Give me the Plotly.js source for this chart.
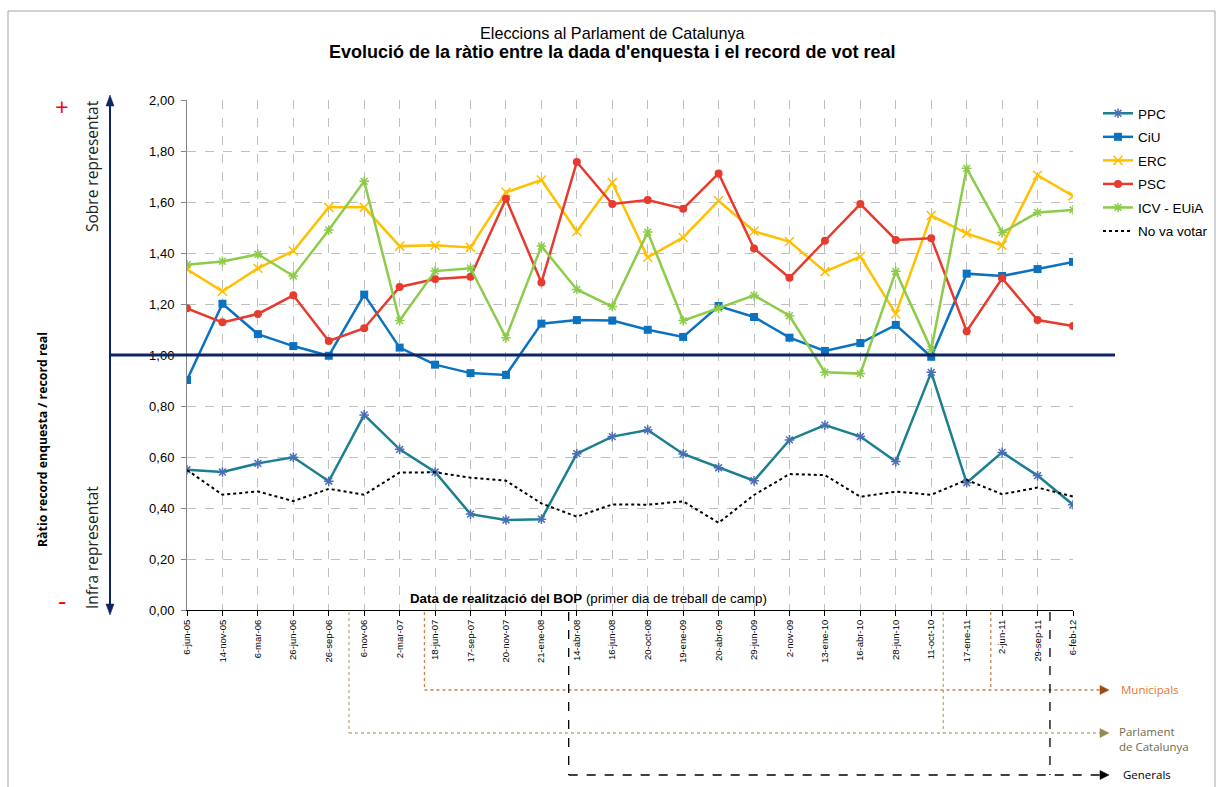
<!DOCTYPE html>
<html>
<head>
<meta charset="utf-8">
<script src="https://cdn.plot.ly/plotly-3.0.1.min.js"></script>
<style>html,body{margin:0;padding:0;background:#fff}#chart{width:1219px;height:787px}</style>
</head>
<body>
<div id="chart"></div>
<script>
// ---- Data ----
const dates = ["6-jun-05","14-nov-05","6-mar-06","26-jun-06","26-sep-06","6-nov-06","2-mar-07","18-jun-07","17-sep-07","20-nov-07","21-ene-08","14-abr-08","16-jun-08","20-oct-08","19-ene-09","20-abr-09","29-jun-09","2-nov-09","13-ene-10","16-abr-10","28-jun-10","11-oct-10","17-ene-11","2-jun-11","29-sep-11","6-feb-12"];
const ppc = [0.550,0.541,0.575,0.599,0.505,0.765,0.630,0.541,0.376,0.353,0.356,0.613,0.680,0.706,0.612,0.558,0.507,0.667,0.725,0.680,0.582,0.932,0.499,0.618,0.527,0.413];
const ciu = [0.902,1.201,1.082,1.035,0.997,1.237,1.029,0.962,0.929,0.922,1.123,1.137,1.135,1.099,1.071,1.192,1.149,1.068,1.016,1.047,1.118,0.993,1.319,1.310,1.337,1.365];
const erc = [1.336,1.250,1.340,1.408,1.579,1.579,1.427,1.430,1.422,1.638,1.686,1.484,1.676,1.383,1.461,1.605,1.485,1.445,1.327,1.386,1.161,1.547,1.477,1.430,1.705,1.624];
const psc = [1.183,1.128,1.161,1.234,1.055,1.105,1.267,1.298,1.307,1.613,1.284,1.757,1.592,1.608,1.574,1.712,1.418,1.303,1.448,1.592,1.451,1.458,1.093,1.301,1.137,1.114];
const icv = [1.354,1.367,1.395,1.310,1.490,1.681,1.135,1.329,1.340,1.068,1.427,1.257,1.190,1.482,1.135,1.183,1.234,1.154,0.932,0.927,1.328,1.022,1.732,1.480,1.559,1.569];
const noVota = [0.549,0.452,0.465,0.427,0.475,0.452,0.539,0.540,0.519,0.507,0.418,0.366,0.414,0.413,0.426,0.342,0.451,0.533,0.529,0.444,0.464,0.452,0.510,0.454,0.480,0.445];
const seriesNames = ["PPC","CiU","ERC","PSC","ICV - EUiA","No va votar"];
// election positions (in category-index units along the x axis)
const elecParlament = [4.57, 21.34];
const elecMunicipals = [6.70, 22.68];
const elecGenerals = [10.77, 24.35];

// ---- Geometry helpers (layout only) ----
const W = 1219, H = 787;
const M = {l:187, r:146, t:100, b:177};
const PW = W - M.l - M.r, PH = H - M.t - M.b;
const N = dates.length - 1;
const X = px => (px - M.l) / PW;
const Y = py => (M.t + PH - py) / PH;
const CX = idx => idx / N;

const FONT = "Arial, 'Liberation Sans', sans-serif";
const CAL = "'Open Sans', 'Noto Sans', sans-serif";

function mk(name, y, color, sym, mcolor, mline, size, group) {
  return {
    type: 'scatter', mode: 'lines+markers', name: name, x: dates, y: y,
    legendgroup: group,
    line: {color: color, width: 2.5},
    marker: sym === 'square' || sym === 'circle'
      ? {symbol: sym, size: size, color: mcolor}
      : {symbol: sym, size: size, color: mcolor, line: {color: mcolor, width: mline}},
    hoverinfo: 'x+y+name'
  };
}

const traces = [
  mk(seriesNames[0], ppc, '#1A7F8E', 'asterisk-open', '#4A6FB5', 1.5, 8, 'g1'),
  mk(seriesNames[1], ciu, '#0A72C1', 'square', '#0A72C1', 0, 8, 'g2'),
  mk(seriesNames[2], erc, '#FFC000', 'x-thin-open', '#FFC000', 1.5, 9, 'g3'),
  mk(seriesNames[3], psc, '#E63B2E', 'circle', '#E63B2E', 0, 8, 'g4'),
  mk(seriesNames[4], icv, '#8DCB4A', 'asterisk-open', '#8DCB4A', 1.5, 8, 'g5'),
  {type:'scatter', mode:'lines', name: seriesNames[5], x: dates, y: noVota, legendgroup:'g6',
   line:{color:'#000000', width:2, dash:'dot'}}
];

// ---- Shapes ----
const shapes = [];
// outer frame
shapes.push({type:'rect', xref:'paper', yref:'paper', x0:X(8), x1:X(1215), y0:Y(800), y1:Y(11),
  line:{color:'#A6A6A6', width:1}, fillcolor:'rgba(0,0,0,0)'});
// 1.00 reference line
shapes.push({type:'line', xref:'paper', yref:'paper', x0:X(110), x1:X(1115), y0:0.5, y1:0.5,
  line:{color:'#0F2463', width:3}});
// vertical double arrow
const AX = 110;
shapes.push({type:'line', xref:'paper', yref:'paper', x0:X(AX), x1:X(AX), y0:Y(606), y1:Y(104),
  line:{color:'#0F2463', width:2}});
function tri(pts, color) {
  const d = 'M' + pts.map(p => X(p[0]) + ',' + Y(p[1])).join(' L') + ' Z';
  return {type:'path', xref:'paper', yref:'paper', path:d, fillcolor:color, line:{color:color, width:0.5}};
}
shapes.push(tri([[AX-4,106],[AX+4,106],[AX,95]], '#0F2463'));
shapes.push(tri([[AX-4,604],[AX+4,604],[AX,615]], '#0F2463'));

// election bracket lines
function bracket(positions, py, color, dash, headColor) {
  positions.forEach(p => {
    shapes.push({type:'line', xref:'paper', yref:'paper', x0:CX(p), x1:CX(p), y0:Y(612), y1:Y(py),
      line:{color:color, width:1.3, dash:dash}});
  });
  shapes.push({type:'line', xref:'paper', yref:'paper', x0:CX(positions[0]), x1:X(1101), y0:Y(py), y1:Y(py),
    line:{color:color, width:1.3, dash:dash}});
  shapes.push(tri([[1100,py-4.5],[1100,py+4.5],[1109,py]], headColor));
}
bracket(elecMunicipals, 690, '#C98150', 'dot', '#9A4A10');
bracket(elecParlament, 733, '#B8AD80', 'dot', '#948A54');
bracket(elecGenerals, 775, '#000000', 'dash', '#000000');

// ---- Annotations ----
const annotations = [
  {xref:'paper', yref:'paper', x:X(612), y:Y(33), text:'Eleccions al Parlament de Catalunya', showarrow:false,
   font:{family:FONT, size:16.2, color:'#000'}, xanchor:'center', yanchor:'middle'},
  {xref:'paper', yref:'paper', x:X(612), y:Y(52), text:"<b>Evolució de la ràtio entre la dada d'enquesta i el record de vot real</b>", showarrow:false,
   font:{family:FONT, size:18, color:'#000'}, xanchor:'center', yanchor:'middle'},
  {xref:'paper', yref:'paper', x:X(588), y:Y(598), text:'<b>Data de realització del BOP</b> (primer dia de treball de camp)', showarrow:false,
   font:{family:FONT, size:13.3, color:'#000'}, xanchor:'center', yanchor:'middle'},
  {xref:'paper', yref:'paper', x:X(92), y:Y(166), text:'Sobre representat', textangle:-90, showarrow:false,
   font:{family:CAL, size:15.5, color:'#222'}, xanchor:'center', yanchor:'middle'},
  {xref:'paper', yref:'paper', x:X(92), y:Y(548), text:'Infra representat', textangle:-90, showarrow:false,
   font:{family:CAL, size:15.5, color:'#222'}, xanchor:'center', yanchor:'middle'},
  {xref:'paper', yref:'paper', x:X(42), y:Y(440), text:'<b>Ràtio record enquesta / record real</b>', textangle:-90, showarrow:false,
   font:{family:CAL, size:12.3, color:'#000'}, xanchor:'center', yanchor:'middle'},
  {xref:'paper', yref:'paper', x:X(62), y:Y(107), text:'+', showarrow:false,
   font:{family:CAL, size:24, color:'#FF0000'}, xanchor:'center', yanchor:'middle'},
  {xref:'paper', yref:'paper', x:X(62), y:Y(600), text:'-', showarrow:false,
   font:{family:CAL, size:26, color:'#FF0000'}, xanchor:'center', yanchor:'middle'},
  {xref:'paper', yref:'paper', x:X(1119), y:Y(690), text:'Municipals', showarrow:false,
   font:{family:CAL, size:11.5, color:'#E4782E'}, xanchor:'left', yanchor:'middle'},
  {xref:'paper', yref:'paper', x:X(1117), y:Y(739), text:'Parlament<br>de Catalunya', showarrow:false, align:'left',
   font:{family:CAL, size:11.5, color:'#6F6A4E'}, xanchor:'left', yanchor:'middle'},
  {xref:'paper', yref:'paper', x:X(1121), y:Y(774), text:'Generals', showarrow:false,
   font:{family:CAL, size:11.5, color:'#000'}, xanchor:'left', yanchor:'middle'}
];

const layout = {
  width: W, height: H,
  margin: {l:M.l, r:M.r, t:M.t, b:M.b, pad:0, autoexpand:false},
  paper_bgcolor:'#fff', plot_bgcolor:'#fff',
  separators: ',.',
  showlegend: true,
  font: {family: FONT, size: 12, color:'#000'},
  xaxis: {
    type:'category', range:[0, N], autorange:false, fixedrange:true,
    showgrid:true, gridcolor:'#BFBFBF', griddash:'dash', gridwidth:1,
    showline:true, linecolor:'#000', linewidth:1,
    ticks:'outside', ticklen:5, tickcolor:'#000',
    tickangle:-90, tickfont:{family:FONT, size:9.5, color:'#000'},
    zeroline:false, automargin:false
  },
  yaxis: {
    range:[0, 2], autorange:false, dtick:0.2, tick0:0, tickformat:'.2f',
    showgrid:true, gridcolor:'#BFBFBF', griddash:'dash', gridwidth:1,
    showline:true, linecolor:'#868686', linewidth:1,
    ticks:'outside', ticklen:5, tickcolor:'#868686',
    tickfont:{family:FONT, size:13, color:'#000'},
    ticklabelstandoff: 4,
    zeroline:false, automargin:false
  },
  legend: {
    x: X(1098), y: Y(98), xanchor:'left', yanchor:'top',
    font:{family:FONT, size:13.5, color:'#000'},
    traceorder:'grouped', tracegroupgap:3,
    bgcolor:'rgba(0,0,0,0)', borderwidth:0
  },
  shapes: shapes,
  annotations: annotations
};

Plotly.newPlot('chart', traces, layout, {displayModeBar:false, staticPlot:true});
</script>
</body>
</html>
